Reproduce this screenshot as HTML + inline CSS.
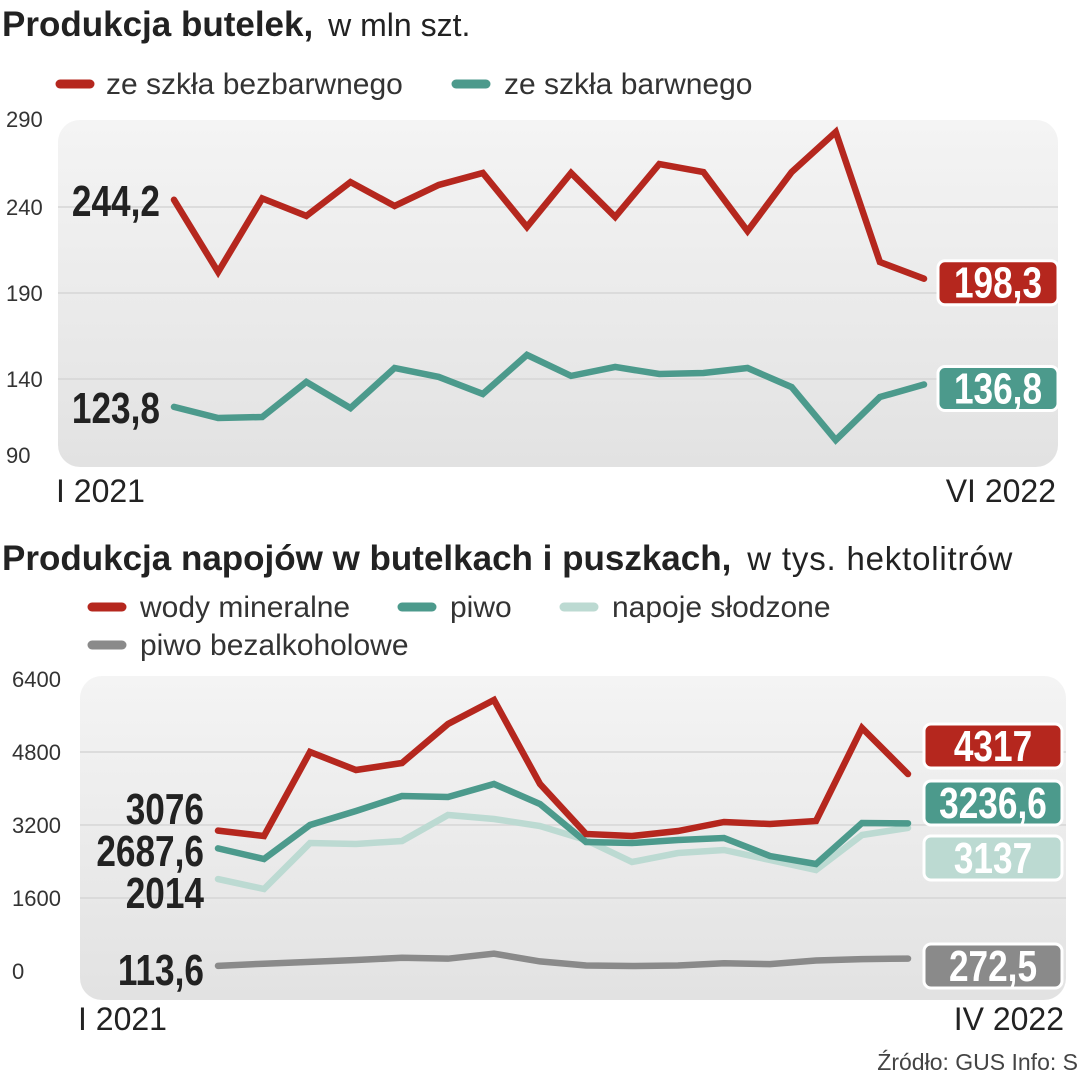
<!DOCTYPE html>
<html><head><meta charset="utf-8"><style>
body{margin:0;background:#fff;}
svg{display:block;font-family:"Liberation Sans Narrow","Liberation Sans",sans-serif;}
</style></head><body>
<svg id="c" width="1080" height="1080" viewBox="0 0 1080 1080" xmlns="http://www.w3.org/2000/svg">
<defs>
<linearGradient id="bg" x1="0" y1="0" x2="0" y2="1"><stop offset="0" stop-color="#f4f4f4"/><stop offset="1" stop-color="#e2e2e2"/></linearGradient>
</defs>
<text x="2" y="36" font-size="35" fill="#222"><tspan font-weight="bold" class="cond">Produkcja butelek,</tspan><tspan font-family="Liberation Sans,sans-serif" font-size="32" dx="6"> w mln szt.</tspan></text>
<g font-family="Liberation Sans,sans-serif" font-size="30" fill="#333">
<line x1="60" y1="84" x2="90" y2="84" stroke="#b5271e" stroke-width="9" stroke-linecap="round"/>
<text x="106" y="94">ze szkła bezbarwnego</text>
<line x1="456" y1="84" x2="486" y2="84" stroke="#4c9a8c" stroke-width="9" stroke-linecap="round"/>
<text x="504" y="94">ze szkła barwnego</text>
</g>
<rect x="58" y="120" width="1000" height="347" rx="22" fill="url(#bg)"/>
<g id="g1"></g>
<text x="56" y="502" font-size="32" fill="#222" font-family="Liberation Sans,sans-serif">I 2021</text>
<text x="1056" y="502" font-size="32" fill="#222" text-anchor="end" font-family="Liberation Sans,sans-serif">VI 2022</text>

<text x="2" y="570" font-size="35" fill="#222"><tspan font-weight="bold">Produkcja napojów w butelkach i puszkach,</tspan><tspan font-family="Liberation Sans,sans-serif" font-size="33" dx="6" textLength="275"> w tys. hektolitrów</tspan></text>
<g font-family="Liberation Sans,sans-serif" font-size="30" fill="#333">
<line x1="92" y1="607" x2="122" y2="607" stroke="#b5271e" stroke-width="9" stroke-linecap="round"/>
<text x="140" y="617">wody mineralne</text>
<line x1="402" y1="607" x2="432" y2="607" stroke="#4c9a8c" stroke-width="9" stroke-linecap="round"/>
<text x="450" y="617">piwo</text>
<line x1="564" y1="607" x2="594" y2="607" stroke="#bcdad2" stroke-width="9" stroke-linecap="round"/>
<text x="612" y="617">napoje słodzone</text>
<line x1="92" y1="645" x2="122" y2="645" stroke="#8a8a8a" stroke-width="9" stroke-linecap="round"/>
<text x="140" y="655">piwo bezalkoholowe</text>
</g>
<rect x="80" y="676" width="986" height="324" rx="22" fill="url(#bg)"/>
<g id="g2"></g>
<text x="78" y="1030" font-size="32" fill="#222" font-family="Liberation Sans,sans-serif">I 2021</text>
<text x="1064" y="1030" font-size="32" fill="#222" text-anchor="end" font-family="Liberation Sans,sans-serif">IV 2022</text>
<text x="1078" y="1070" font-size="23" fill="#444" text-anchor="end" font-family="Liberation Sans,sans-serif">Źródło: GUS   Info: S</text>
</svg>
<script>
// Chart 1 data
const c1Ticks = [290, 240, 190, 140, 90];
const c1Red = [244.2,202.2,245,234.8,254.5,240.6,252.8,259.8,228.4,259.8,234.2,265,260.3,226,260.3,283.6,208,198.3];
const c1Teal = [123.8,117.3,117.9,138.3,123.1,146.4,141.2,131.3,154,141.8,147,142.9,143.5,146.4,135.3,104.5,129.5,136.8];
const c1Labels = ["244,2","123,8","198,3","136,8"];
// Chart 2 data
const c2Ticks = [6400, 4800, 3200, 1600, 0];
const c2Red = [3076,2959,4800,4405,4559,5414,5940,4099,3003,2959,3068,3266,3222,3288,5326,4317];
const c2Teal = [2687.6,2455,3200,3507,3836,3814,4099,3660,2827,2805,2871,2915,2520,2345,3244,3236.6];
const c2Light = [2014,1797,2805,2784,2849,3419,3332,3178,2871,2389,2586,2652,2433,2214,2981,3137];
const c2Gray = [113.6,160,200,240,290,270,380,210,120,110,120,170,150,230,260,272.5];
const c2Start = ["3076","2687,6","2014","113,6"];
const c2End = ["4317","3236,6","3137","272,5"];

const NS="http://www.w3.org/2000/svg";
function mk(parent,tag,attrs){const e=document.createElementNS(NS,tag);for(const k in attrs)e.setAttribute(k,attrs[k]);parent.appendChild(e);return e;}
function condense(t,f){const w=t.getComputedTextLength();t.setAttribute('textLength',w*f);t.setAttribute('lengthAdjust','spacingAndGlyphs');}

const y1=v=>121+(290-v)*86/50;
const x1=i=>174+i*(750/(c1Red.length-1));
const g1=document.getElementById('g1');
c1Ticks.forEach(t=>{
  if(t!==290&&t!==90){const l=mk(g1,'line',{x1:58,x2:1058,y1:y1(t),y2:y1(t),stroke:'#d6d6d6','stroke-width':1.5});
  
  }
  const tx=mk(g1,'text',{x:6,y:y1(t)+(t===290?6:t===90?-2:8),'font-size':22,fill:'#333','font-family':'Liberation Sans,sans-serif'});
  tx.textContent=t;
  
  
});
function line(g,arr,xf,yf,col,name){
  const p=mk(g,'polyline',{points:arr.map((v,i)=>xf(i)+','+yf(v)).join(' '),fill:'none',stroke:col,'stroke-width':6.5,'stroke-linejoin':'miter','stroke-linecap':'round'});
  
  
}
line(g1,c1Teal,x1,y1,'#4c9a8c','series-barwne');
line(g1,c1Red,x1,y1,'#b5271e','series-bezbarwne');
function startLbl(g,x,y,txt,name){
  const t=mk(g,'text',{x:x,y:y,'font-size':44,'font-weight':'bold',fill:'#222','text-anchor':'end'});
  t.textContent=txt;
  
  
  condense(t,0.8);
}
function endBox(g,x,y,w,txt,col,tcol,name){
  const b=mk(g,'g',{});
  
  
  mk(b,'rect',{x:x,y:y-22,width:w,height:44,rx:7,fill:col,stroke:'#fff','stroke-width':3});
  const t=mk(b,'text',{x:x+w/2,y:y+15,'font-size':44,'font-weight':'bold',fill:tcol,'text-anchor':'middle'});
  t.textContent=txt;
  condense(t,0.8);
}
startLbl(g1,160,y1(c1Red[0])+16,c1Labels[0],'label-start-bezbarwne');
startLbl(g1,160,y1(c1Teal[0])+16,c1Labels[1],'label-start-barwne');
endBox(g1,938,y1(c1Red[c1Red.length-1])+4,120,c1Labels[2],'#b5271e','#fff','label-end-bezbarwne');
endBox(g1,938,y1(c1Teal[c1Teal.length-1])+4,120,c1Labels[3],'#4c9a8c','#fff','label-end-barwne');

const y2=v=>971-v*73/1600;
const x2=i=>218+i*(690/(c2Red.length-1));
const g2=document.getElementById('g2');
c2Ticks.forEach(t=>{
  if(t!==6400&&t!==0){const l=mk(g2,'line',{x1:80,x2:1066,y1:y2(t),y2:y2(t),stroke:'#d6d6d6','stroke-width':1.5});
  
  }
  const tx=mk(g2,'text',{x:12,y:y2(t)+8,'font-size':22,fill:'#333','font-family':'Liberation Sans,sans-serif'});
  tx.textContent=t;
  
  
});
line(g2,c2Gray,x2,y2,'#8a8a8a','series-piwo-bezalkoholowe');
line(g2,c2Light,x2,y2,'#bcdad2','series-napoje-slodzone');
line(g2,c2Teal,x2,y2,'#4c9a8c','series-piwo');
line(g2,c2Red,x2,y2,'#b5271e','series-wody-mineralne');
startLbl(g2,204,824,c2Start[0],'label-start-wody');
startLbl(g2,204,866,c2Start[1],'label-start-piwo');
startLbl(g2,204,908,c2Start[2],'label-start-napoje');
startLbl(g2,204,985,c2Start[3],'label-start-bezalkoholowe');
endBox(g2,924,746,138,c2End[0],'#b5271e','#fff','label-end-wody');
endBox(g2,924,803,138,c2End[1],'#4c9a8c','#fff','label-end-piwo');
endBox(g2,924,858,138,c2End[2],'#bcdad2','#fff','label-end-napoje');
endBox(g2,924,966,138,c2End[3],'#8a8a8a','#fff','label-end-bezalkoholowe');
</script>
</body></html>
